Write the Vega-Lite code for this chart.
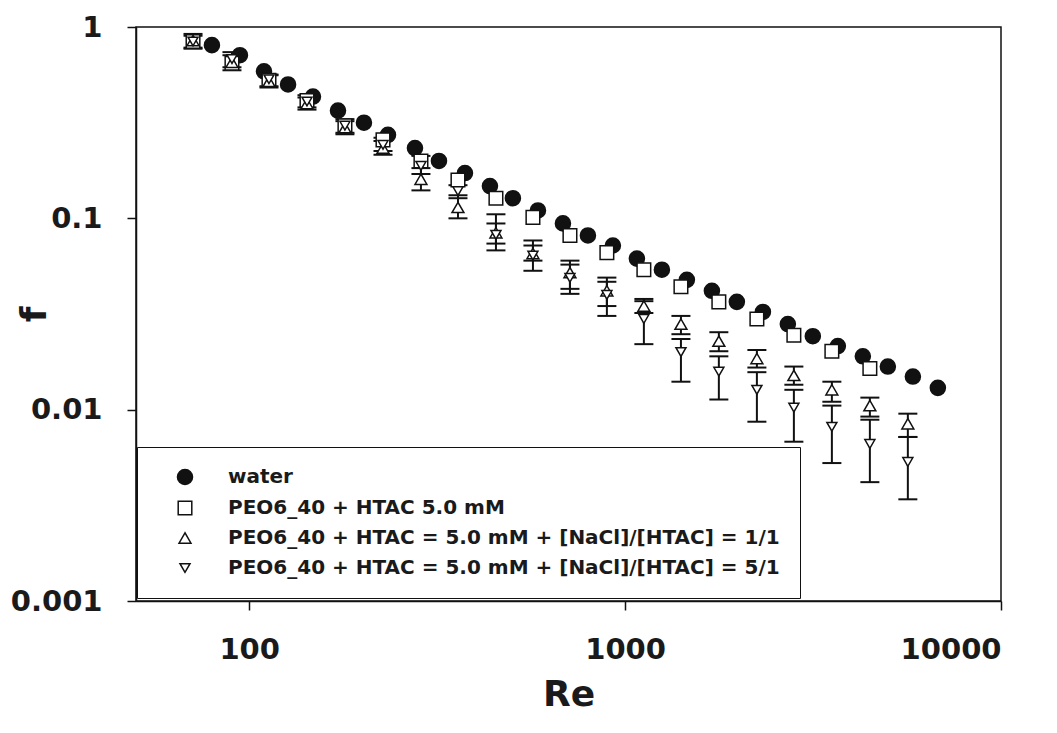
{
  "$schema": "https://vega.github.io/schema/vega-lite/v6.json",
  "width": 865,
  "height": 574,
  "autosize": {"type": "none"},
  "padding": {"left": 136, "top": 27, "right": 56, "bottom": 132},
  "background": "white",
  "config": {
    "view": {"stroke": "#111", "strokeWidth": 1.5},
    "font": "DejaVu Sans",
    "axis": {
      "grid": false,
      "domainColor": "#111",
      "domainWidth": 1.5,
      "tickColor": "#111",
      "tickWidth": 1.5,
      "tickSize": 9,
      "labelFont": "DejaVu Sans",
      "labelFontWeight": "bold",
      "labelFontSize": 29,
      "labelColor": "#1a1a1a",
      "labelPadding": 25,
      "titleFont": "DejaVu Sans",
      "titleFontWeight": "bold",
      "titleFontSize": 36,
      "titleColor": "#1a1a1a"
    },
    "legend": {
      "orient": "none",
      "legendX": 1,
      "legendY": 420,
      "padding": 20,
      "strokeColor": "#111",
      "labelFont": "DejaVu Sans",
      "labelFontSize": 20,
      "labelFontWeight": "bold",
      "labelColor": "#1a1a1a",
      "labelLimit": 900,
      "rowPadding": 10,
      "symbolOffset": 18,
      "labelOffset": 33,
      "symbolStrokeColor": "#111",
      "symbolStrokeWidth": 1.5
    }
  },
  "data": {
    "values": [
      {"s": "W", "Re": 79.6, "f": 0.804},
      {"s": "W", "Re": 94.5, "f": 0.712},
      {"s": "W", "Re": 109.5, "f": 0.587},
      {"s": "W", "Re": 126.9, "f": 0.501},
      {"s": "W", "Re": 147.8, "f": 0.433},
      {"s": "W", "Re": 172.3, "f": 0.366},
      {"s": "W", "Re": 202.0, "f": 0.316},
      {"s": "W", "Re": 234.0, "f": 0.273},
      {"s": "W", "Re": 276.1, "f": 0.233},
      {"s": "W", "Re": 319.8, "f": 0.1995},
      {"s": "W", "Re": 375.0, "f": 0.1725},
      {"s": "W", "Re": 437.0, "f": 0.1474},
      {"s": "W", "Re": 503.0, "f": 0.1274},
      {"s": "W", "Re": 586.4, "f": 0.110},
      {"s": "W", "Re": 683.4, "f": 0.0941},
      {"s": "W", "Re": 796.4, "f": 0.0814},
      {"s": "W", "Re": 928.0, "f": 0.0721},
      {"s": "W", "Re": 1075, "f": 0.0616},
      {"s": "W", "Re": 1253, "f": 0.0539},
      {"s": "W", "Re": 1460, "f": 0.0477},
      {"s": "W", "Re": 1702, "f": 0.0418},
      {"s": "W", "Re": 1983, "f": 0.0366},
      {"s": "W", "Re": 2326, "f": 0.0324},
      {"s": "W", "Re": 2710, "f": 0.0280},
      {"s": "W", "Re": 3158, "f": 0.0242},
      {"s": "W", "Re": 3681, "f": 0.0215},
      {"s": "W", "Re": 4290, "f": 0.0190},
      {"s": "W", "Re": 5000, "f": 0.0168},
      {"s": "W", "Re": 5829, "f": 0.0149},
      {"s": "W", "Re": 6792, "f": 0.0130},
      {"s": "S", "Re": 70.9, "f": 0.84},
      {"s": "S", "Re": 90.0, "f": 0.646},
      {"s": "S", "Re": 112.9, "f": 0.526},
      {"s": "S", "Re": 142.5, "f": 0.413},
      {"s": "S", "Re": 179.8, "f": 0.305},
      {"s": "S", "Re": 227.0, "f": 0.257},
      {"s": "S", "Re": 286.4, "f": 0.1995},
      {"s": "S", "Re": 359.3, "f": 0.1585},
      {"s": "S", "Re": 453.4, "f": 0.1274},
      {"s": "S", "Re": 568.7, "f": 0.1012},
      {"s": "S", "Re": 713.4, "f": 0.0814},
      {"s": "S", "Re": 894.5, "f": 0.0662},
      {"s": "S", "Re": 1122, "f": 0.0539},
      {"s": "S", "Re": 1408, "f": 0.0439},
      {"s": "S", "Re": 1776, "f": 0.0366},
      {"s": "S", "Re": 2242, "f": 0.0298},
      {"s": "S", "Re": 2812, "f": 0.0245},
      {"s": "S", "Re": 3549, "f": 0.0202},
      {"s": "S", "Re": 4479, "f": 0.0164},
      {"s": "U", "Re": 70.9, "f": 0.85, "lo": 0.77, "hi": 0.92},
      {"s": "U", "Re": 90.0, "f": 0.654, "lo": 0.594, "hi": 0.712},
      {"s": "U", "Re": 112.9, "f": 0.52, "lo": 0.483, "hi": 0.559},
      {"s": "U", "Re": 142.5, "f": 0.398, "lo": 0.37, "hi": 0.428},
      {"s": "U", "Re": 179.8, "f": 0.298, "lo": 0.275, "hi": 0.322},
      {"s": "U", "Re": 227.0, "f": 0.233, "lo": 0.215, "hi": 0.254},
      {"s": "U", "Re": 286.4, "f": 0.160, "lo": 0.140, "hi": 0.183},
      {"s": "U", "Re": 359.3, "f": 0.114, "lo": 0.100, "hi": 0.132},
      {"s": "U", "Re": 453.4, "f": 0.084, "lo": 0.0738, "hi": 0.105},
      {"s": "U", "Re": 568.7, "f": 0.0655, "lo": 0.0601, "hi": 0.0766},
      {"s": "U", "Re": 713.4, "f": 0.052, "lo": 0.0428, "hi": 0.0601},
      {"s": "U", "Re": 894.5, "f": 0.0418, "lo": 0.0348, "hi": 0.049},
      {"s": "U", "Re": 1122, "f": 0.0348, "lo": 0.032, "hi": 0.0379},
      {"s": "U", "Re": 1408, "f": 0.028, "lo": 0.0248, "hi": 0.0309},
      {"s": "U", "Re": 1776, "f": 0.0228, "lo": 0.0202, "hi": 0.0254},
      {"s": "U", "Re": 2242, "f": 0.0185, "lo": 0.0166, "hi": 0.0205},
      {"s": "U", "Re": 2812, "f": 0.0151, "lo": 0.0135, "hi": 0.0168},
      {"s": "U", "Re": 3549, "f": 0.0127, "lo": 0.011, "hi": 0.014},
      {"s": "U", "Re": 4479, "f": 0.0105, "lo": 0.0092, "hi": 0.01156},
      {"s": "U", "Re": 5652, "f": 0.00844, "lo": 0.0072, "hi": 0.00953},
      {"s": "D", "Re": 70.9, "f": 0.84, "lo": 0.78, "hi": 0.90},
      {"s": "D", "Re": 90.0, "f": 0.679, "lo": 0.616, "hi": 0.739},
      {"s": "D", "Re": 112.9, "f": 0.533, "lo": 0.49, "hi": 0.565},
      {"s": "D", "Re": 142.5, "f": 0.408, "lo": 0.38, "hi": 0.44},
      {"s": "D", "Re": 179.8, "f": 0.305, "lo": 0.28, "hi": 0.33},
      {"s": "D", "Re": 227.0, "f": 0.242, "lo": 0.225, "hi": 0.264},
      {"s": "D", "Re": 286.4, "f": 0.188, "lo": 0.1705, "hi": 0.212},
      {"s": "D", "Re": 359.3, "f": 0.1387, "lo": 0.1274, "hi": 0.149},
      {"s": "D", "Re": 453.4, "f": 0.082, "lo": 0.068, "hi": 0.094},
      {"s": "D", "Re": 568.7, "f": 0.0639, "lo": 0.0532, "hi": 0.0721},
      {"s": "D", "Re": 713.4, "f": 0.0489, "lo": 0.0403, "hi": 0.0573},
      {"s": "D", "Re": 894.5, "f": 0.0398, "lo": 0.0309, "hi": 0.0466},
      {"s": "D", "Re": 1122, "f": 0.0298, "lo": 0.022, "hi": 0.0369},
      {"s": "D", "Re": 1408, "f": 0.0200, "lo": 0.0140, "hi": 0.0234},
      {"s": "D", "Re": 1776, "f": 0.0158, "lo": 0.0113, "hi": 0.019},
      {"s": "D", "Re": 2242, "f": 0.0127, "lo": 0.00865, "hi": 0.0157},
      {"s": "D", "Re": 2812, "f": 0.01025, "lo": 0.0068, "hi": 0.0127},
      {"s": "D", "Re": 3549, "f": 0.00814, "lo": 0.00526, "hi": 0.0105},
      {"s": "D", "Re": 4479, "f": 0.00662, "lo": 0.00418, "hi": 0.00886},
      {"s": "D", "Re": 5652, "f": 0.00533, "lo": 0.0034, "hi": 0.0072}
    ]
  },
  "transform": [
    {"lookup": "s", "from": {"data": {"values": [
      {"k": "W", "series": "water"},
      {"k": "S", "series": "PEO6_40 + HTAC 5.0 mM"},
      {"k": "U", "series": "PEO6_40 + HTAC = 5.0 mM + [NaCl]/[HTAC] = 1/1"},
      {"k": "D", "series": "PEO6_40 + HTAC = 5.0 mM + [NaCl]/[HTAC] = 5/1"}
    ]}, "key": "k", "fields": ["series"]}}
  ],
  "encoding": {
    "x": {
      "field": "Re",
      "type": "quantitative",
      "scale": {"type": "log", "domain": [50, 10000], "nice": false},
      "axis": {"values": [100, 1000, 10000], "format": "d", "title": "Re", "titleBaseline": "alphabetic", "titleY": 104}
    }
  },
  "layer": [
    {
      "transform": [{"filter": "isValid(datum.lo)"}],
      "mark": {"type": "rule", "stroke": "#111", "strokeWidth": 2},
      "encoding": {
        "y": {"field": "lo", "type": "quantitative", "title": "f"},
        "y2": {"field": "hi"}
      }
    },
    {
      "transform": [{"filter": "isValid(datum.lo)"}],
      "mark": {"type": "tick", "orient": "horizontal", "color": "#111", "size": 19, "thickness": 2, "opacity": 1},
      "encoding": {
        "y": {"field": "lo", "type": "quantitative", "title": "f"}
      }
    },
    {
      "transform": [{"filter": "isValid(datum.lo)"}],
      "mark": {"type": "tick", "orient": "horizontal", "color": "#111", "size": 19, "thickness": 2, "opacity": 1},
      "encoding": {
        "y": {"field": "hi", "type": "quantitative", "title": "f"}
      }
    },
    {
      "mark": {"type": "point", "filled": true, "strokeWidth": 1.5, "opacity": 1, "fillOpacity": 1, "strokeOpacity": 1},
      "encoding": {
        "y": {
          "field": "f",
          "type": "quantitative",
          "title": "f",
          "scale": {"type": "log", "domain": [0.001, 1], "nice": false},
          "axis": {"values": [0.001, 0.01, 0.1, 1], "format": "~g", "titleBaseline": "alphabetic", "titleX": -91, "titleY": 287}
        },
        "shape": {
          "field": "series", "type": "nominal", "title": null,
          "scale": {"domain": ["water", "PEO6_40 + HTAC 5.0 mM", "PEO6_40 + HTAC = 5.0 mM + [NaCl]/[HTAC] = 1/1", "PEO6_40 + HTAC = 5.0 mM + [NaCl]/[HTAC] = 5/1"], "range": ["circle", "square", "triangle-up", "triangle-down"]}
        },
        "fill": {
          "field": "series", "type": "nominal", "title": null,
          "scale": {"domain": ["water", "PEO6_40 + HTAC 5.0 mM", "PEO6_40 + HTAC = 5.0 mM + [NaCl]/[HTAC] = 1/1", "PEO6_40 + HTAC = 5.0 mM + [NaCl]/[HTAC] = 5/1"], "range": ["#111111", "#ffffff", "#ffffff", "#ffffff"]}
        },
        "stroke": {
          "field": "series", "type": "nominal", "title": null,
          "scale": {"domain": ["water", "PEO6_40 + HTAC 5.0 mM", "PEO6_40 + HTAC = 5.0 mM + [NaCl]/[HTAC] = 1/1", "PEO6_40 + HTAC = 5.0 mM + [NaCl]/[HTAC] = 5/1"], "range": ["#111111", "#111111", "#111111", "#111111"]}
        },
        "size": {
          "field": "series", "type": "nominal", "title": null,
          "scale": {"domain": ["water", "PEO6_40 + HTAC 5.0 mM", "PEO6_40 + HTAC = 5.0 mM + [NaCl]/[HTAC] = 1/1", "PEO6_40 + HTAC = 5.0 mM + [NaCl]/[HTAC] = 5/1"], "range": [227, 100, 144, 144]}
        }
      }
    }
  ]
}
